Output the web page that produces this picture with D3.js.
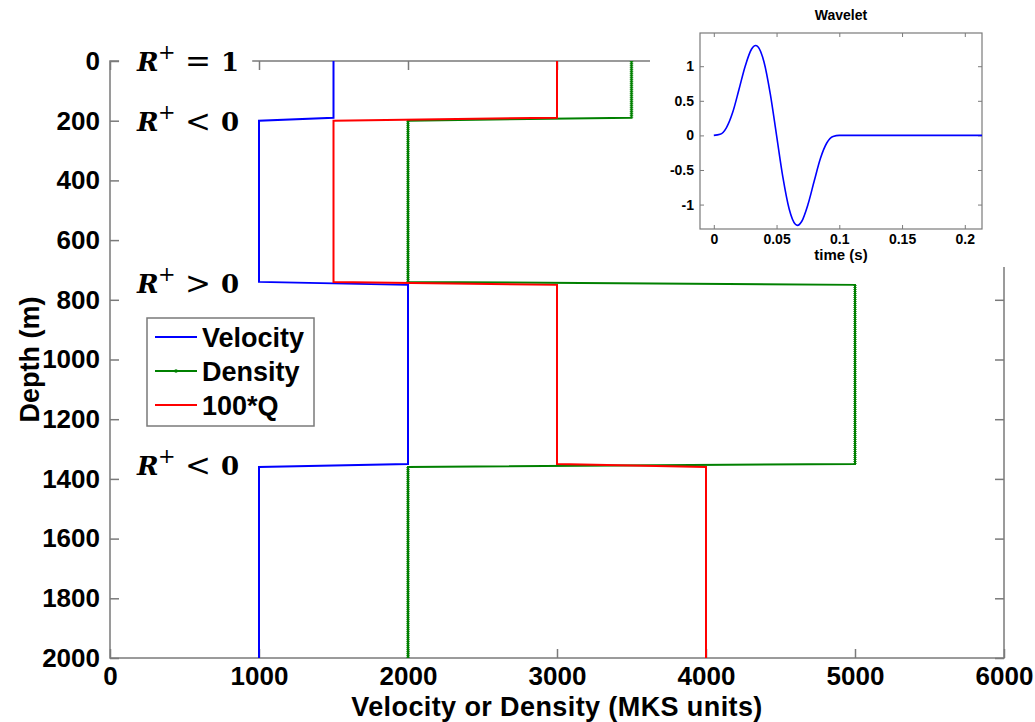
<!DOCTYPE html>
<html><head><meta charset="utf-8">
<script src="https://cdn.jsdelivr.net/npm/d3@7"></script>
<style>body{margin:0;background:#fff}</style>
</head><body><svg id="c" width="1035" height="722"></svg>
<script>
// ---------- data ----------
const depth    = [0, 190, 200, 740, 750, 1350, 1360, 2000];
const velocity = [1500, 1500, 1000, 1000, 2000, 2000, 1000, 1000];
const density  = [3500, 3500, 2000, 2000, 5000, 5000, 2000, 2000];
const q100     = [3000, 3000, 1500, 1500, 3000, 3000, 4000, 4000];
const seriesNames = ["Velocity", "Density", "100*Q"];
const xTicks = [0, 1000, 2000, 3000, 4000, 5000, 6000];
const yTicks = [0, 200, 400, 600, 800, 1000, 1200, 1400, 1600, 1800, 2000];
const rDepths = [0, 200, 745, 1355];
const rOps    = ["=", "<", ">", "<"];
const rVals   = ["1", "0", "0", "0"];
const waveletTime = [0, 0.005, 0.01, 0.015, 0.02, 0.025, 0.03, 0.0333, 0.035, 0.04, 0.045, 0.05,
  0.055, 0.06, 0.065, 0.0667, 0.07, 0.075, 0.08, 0.085, 0.09, 0.095, 0.1, 0.15, 0.2, 0.2137];
const waveletAmp = [0, 0.015, 0.11, 0.33, 0.66, 1.0, 1.245, 1.3, 1.285, 1.06, 0.6, 0,
  -0.6, -1.06, -1.285, -1.3, -1.245, -1.0, -0.66, -0.33, -0.11, -0.015, 0, 0, 0, 0];
const wXTicks = [0, 0.05, 0.1, 0.15, 0.2];
const wXLabels = ["0", "0.05", "0.1", "0.15", "0.2"];
const wYTicks = [-1, -0.5, 0, 0.5, 1];
const wYLabels = ["-1", "-0.5", "0", "0.5", "1"];

// ---------- setup ----------
const svg = d3.select("#c");
const AX = "#7a7a7a";
const FONT = "'Liberation Sans', Arial, sans-serif";
const x = d3.scaleLinear().domain([0, 6000]).range([110, 1004]);
const y = d3.scaleLinear().domain([0, 2000]).range([61, 658]);

function styleAxis(g, fs) {
  g.select(".domain").remove();
  g.selectAll(".tick line").attr("stroke", AX).attr("stroke-width", 1.5);
  g.selectAll(".tick text").attr("fill", "#000").style("font-family", FONT)
    .style("font-weight", "bold").style("font-size", fs + "px");
}

// box
svg.append("rect").attr("x", x(0)).attr("y", y(0)).attr("width", x(6000) - x(0))
  .attr("height", y(2000) - y(0)).attr("fill", "none").attr("stroke", AX).attr("stroke-width", 1.5);

svg.append("g").attr("transform", `translate(0,${y(2000)})`)
  .call(d3.axisBottom(x).tickValues(xTicks).tickSize(-9).tickPadding(9).tickFormat(d3.format("d")))
  .call(g => styleAxis(g, 26));
svg.append("g").attr("transform", `translate(0,${y(0)})`)
  .call(d3.axisTop(x).tickValues(xTicks).tickSize(-9).tickFormat(""))
  .call(g => styleAxis(g, 26));
svg.append("g").attr("transform", `translate(${x(0)},0)`)
  .call(d3.axisLeft(y).tickValues(yTicks).tickSize(-9).tickPadding(10).tickFormat(d3.format("d")))
  .call(g => styleAxis(g, 26));
svg.append("g").attr("transform", `translate(${x(6000)},0)`)
  .call(d3.axisRight(y).tickValues(yTicks).tickSize(-9).tickFormat(""))
  .call(g => styleAxis(g, 26));

// ---------- series ----------
const series = [
  {name: seriesNames[0], vals: velocity, color: "#0000ff"},
  {name: seriesNames[1], vals: density, color: "#008000"},
  {name: seriesNames[2], vals: q100, color: "#ff0000"}
];
const line = d3.line().x(d => x(d[0])).y(d => y(d[1]));
series.forEach(s => {
  const pts = s.vals.map((v, i) => [v, depth[i]]);
  svg.append("path").attr("d", line(pts)).attr("fill", "none")
    .attr("stroke", s.color).attr("stroke-width", 2);
  if (s.name === "Density") {
    // dense '.' markers along the sampled layers
    for (let i = 0; i < pts.length - 1; i++) {
      if (pts[i][0] === pts[i + 1][0]) {
        svg.append("path").attr("d", line([pts[i], pts[i + 1]])).attr("fill", "none")
          .attr("stroke", s.color).attr("stroke-width", 3.5)
          .attr("stroke-dasharray", "1.2 0.8").attr("opacity", 0.75);
      }
    }
  }
});

// ---------- legend ----------
const lg = svg.append("g");
lg.append("rect").attr("x", 147).attr("y", 318).attr("width", 167).attr("height", 108)
  .attr("fill", "#fff").attr("stroke", AX).attr("stroke-width", 1.5);
series.forEach((s, i) => {
  const cy = 337 + i * 34;
  lg.append("line").attr("x1", 155).attr("x2", 197).attr("y1", cy).attr("y2", cy)
    .attr("stroke", s.color).attr("stroke-width", 2);
  if (s.name === "Density") lg.append("circle").attr("cx", 176).attr("cy", cy).attr("r", 1.8).attr("fill", s.color);
  lg.append("text").attr("x", 202).attr("y", cy + 9.5).text(s.name)
    .style("font-family", FONT).style("font-weight", "bold").style("font-size", "27px");
});

// ---------- axis titles ----------
svg.append("text").attr("x", x(3000)).attr("y", 716).attr("text-anchor", "middle")
  .text("Velocity or Density (MKS units)")
  .style("font-family", FONT).style("font-weight", "bold").style("font-size", "27px")
  .style("letter-spacing", "0.4px");
svg.append("text").attr("transform", `translate(39,${y(1000)}) rotate(-90)`).attr("text-anchor", "middle")
  .text("Depth (m)")
  .style("font-family", FONT).style("font-weight", "bold").style("font-size", "27px");

// ---------- R+ labels ----------
const MF = "'DejaVu Serif', 'Liberation Serif', serif";
rDepths.forEach((d, i) => {
  const g = svg.append("g").attr("transform", `translate(${x(182)},${y(d) + 10})`);
  const bg = g.append("rect").attr("fill", "#fff");
  const t = g.append("text").style("font-family", MF).style("font-size", "26px");
  t.append("tspan").attr("x", 0).attr("y", 0).style("font-style", "italic").style("font-weight", "bold").text("R");
  t.append("tspan").attr("x", 21).attr("y", -12).style("font-size", "21px").text("+");
  t.append("tspan").attr("x", 48).attr("y", 1).style("font-size", "31px").text(rOps[i]);
  t.append("tspan").attr("x", 84).attr("y", 0).style("font-weight", "bold").text(rVals[i]);
  const b = t.node().getBBox();
  bg.attr("x", b.x - 17).attr("y", b.y - 2).attr("width", b.width + 30).attr("height", b.height + 4);
});

// ---------- inset ----------
svg.append("rect").attr("x", 650).attr("y", 0).attr("width", 385).attr("height", 267).attr("fill", "#fff");
const ix = d3.scaleLinear().domain([-0.011, 0.2137]).range([700, 982]);
const iy = d3.scaleLinear().domain([-1.353, 1.48]).range([229, 33]);
const ins = svg.append("g");
ins.append("rect").attr("x", 700).attr("y", 33).attr("width", 282).attr("height", 196)
  .attr("fill", "#fff").attr("stroke", AX).attr("stroke-width", 1.2);
function styleInset(g) {
  g.select(".domain").remove();
  g.selectAll(".tick line").attr("stroke", AX).attr("stroke-width", 1);
  g.selectAll(".tick text").attr("fill", "#000").style("font-family", FONT)
    .style("font-weight", "bold").style("font-size", "14px");
}
ins.append("g").attr("transform", "translate(0,229)")
  .call(d3.axisBottom(ix).tickValues(wXTicks).tickSize(-4).tickPadding(5).tickFormat((d, i) => wXLabels[i]))
  .call(styleInset);
ins.append("g").attr("transform", "translate(0,33)")
  .call(d3.axisTop(ix).tickValues(wXTicks).tickSize(-4).tickFormat("")).call(styleInset);
ins.append("g").attr("transform", "translate(700,0)")
  .call(d3.axisLeft(iy).tickValues(wYTicks).tickSize(-4).tickPadding(6).tickFormat((d, i) => wYLabels[i]))
  .call(styleInset);
ins.append("g").attr("transform", "translate(982,0)")
  .call(d3.axisRight(iy).tickValues(wYTicks).tickSize(-4).tickFormat("")).call(styleInset);
ins.append("path")
  .attr("d", d3.line().x((d, i) => ix(waveletTime[i])).y(d => iy(d)).curve(d3.curveMonotoneX)(waveletAmp))
  .attr("fill", "none").attr("stroke", "#0000ff").attr("stroke-width", 1.6);
ins.append("text").attr("x", 841).attr("y", 20).attr("text-anchor", "middle").text("Wavelet")
  .style("font-family", FONT).style("font-weight", "bold").style("font-size", "14px");
ins.append("text").attr("x", 841).attr("y", 260).attr("text-anchor", "middle").text("time (s)")
  .style("font-family", FONT).style("font-weight", "bold").style("font-size", "15px");
</script></body></html>
